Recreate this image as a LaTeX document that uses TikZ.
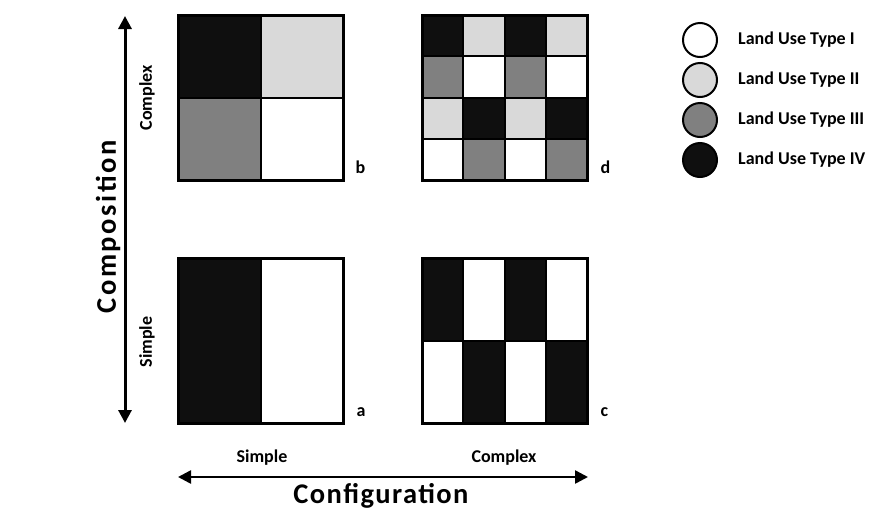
\documentclass[tikz,border=0pt]{standalone}
\usepackage{fontspec}
\setmainfont{Carlito}
\usepackage{xcolor}
\usepackage{tikz}
\usetikzlibrary{positioning,arrows.meta}
\colorlet{typeI}{white}
\colorlet{typeII}{black!15}
\colorlet{typeIII}{black!50}
\colorlet{typeIV}{black!94}

\begin{document}
\begin{tikzpicture}[x=1pt,y=-1pt,
    lbl/.style={font=\bfseries\fontsize{18}{21}\selectfont,inner sep=1pt},
    axislbl/.style={font=\bfseries\fontsize{28.5}{32}\selectfont\addfontfeature{LetterSpace=#1}},
    axislbl/.default=5,
    cell/.style={draw=black,line width=2pt},
    panel/.style={draw=black,line width=3pt,minimum size=165pt,inner sep=0pt},
    swatch/.style={circle,draw=black,line width=2pt,minimum size=34pt,inner sep=0pt},
    axis/.style={line width=3pt,{Triangle[length=13pt,width=13pt]}-{Triangle[length=13pt,width=13pt]}}]
    \useasboundingbox (0,0) rectangle (895,528);
    % panel a: simple composition, simple configuration
    \foreach \c [count=\j from 0] in {typeIV,typeI}
      \filldraw[cell,fill=\c] (178+\j*82.5,258) rectangle ++(82.5,165);
    \node[panel] (a) at (260.5,340.5) {};
    % panel b: complex composition, simple configuration
    \foreach \cols [count=\i from 0] in {{typeIV,typeII},{typeIII,typeI}}
      \foreach \c [count=\j from 0] in \cols
        \filldraw[cell,fill=\c] (178+\j*82.5,15+\i*82.5) rectangle ++(82.5,82.5);
    \node[panel] (b) at (260.5,97.5) {};
    % panel c: simple composition, complex configuration
    \foreach \cols [count=\i from 0] in {{typeIV,typeI,typeIV,typeI},{typeI,typeIV,typeI,typeIV}}
      \foreach \c [count=\j from 0] in \cols
        \filldraw[cell,fill=\c] (422+\j*41.25,258+\i*82.5) rectangle ++(41.25,82.5);
    \node[panel] (c) at (504.5,340.5) {};
    % panel d: complex composition, complex configuration
    \foreach \cols [count=\i from 0] in {{typeIV,typeII,typeIV,typeII},{typeIII,typeI,typeIII,typeI},
                                         {typeII,typeIV,typeII,typeIV},{typeI,typeIII,typeI,typeIII}}
      \foreach \c [count=\j from 0] in \cols
        \filldraw[cell,fill=\c] (422+\j*41.25,15+\i*41.25) rectangle ++(41.25,41.25);
    \node[panel] (d) at (504.5,97.5) {};
    % panel letters
    \node[lbl,anchor=base west] (la) at ([xshift=11pt,yshift=8pt]a.south east) {a};
    \node[lbl,anchor=base west] (lb) at ([xshift=10pt,yshift=8pt]b.south east) {b};
    \node[lbl,anchor=base west] (lc) at ([xshift=11pt,yshift=8pt]c.south east) {c};
    \node[lbl,anchor=base west] (ld) at ([xshift=11pt,yshift=8pt]d.south east) {d};
    % legend
    \foreach \c/\n [count=\k] in {typeI/I,typeII/II,typeIII/III,typeIV/IV}{
      \node[swatch,fill=\c] (sw\k) at (700,40*\k) {};
      \node[lbl,right=19pt of sw\k] (key\k) {Land Use Type \n};
    }
    % composition axis
    \coordinate (compTop) at (125,16);
    \coordinate (compBot) at (125,423);
    \draw[axis] (compBot) -- (compTop);
    \node[axislbl=9,rotate=90] (comp) at (108,227) {Composition};
    \node[lbl,rotate=90] (compHi) at (147,98) {Complex};
    \node[lbl,rotate=90] (compLo) at (147,342) {Simple};
    % configuration axis
    \coordinate (confL) at (178,477);
    \coordinate (confR) at (588,477);
    \draw[axis,line width=2.5pt] (confL) -- (confR);
    \node[axislbl] (conf) at (381,496) {Configuration};
    \node[lbl] (confLo) at (262,458) {Simple};
    \node[lbl] (confHi) at (504,458) {Complex};
  \end{tikzpicture}
\end{document}
